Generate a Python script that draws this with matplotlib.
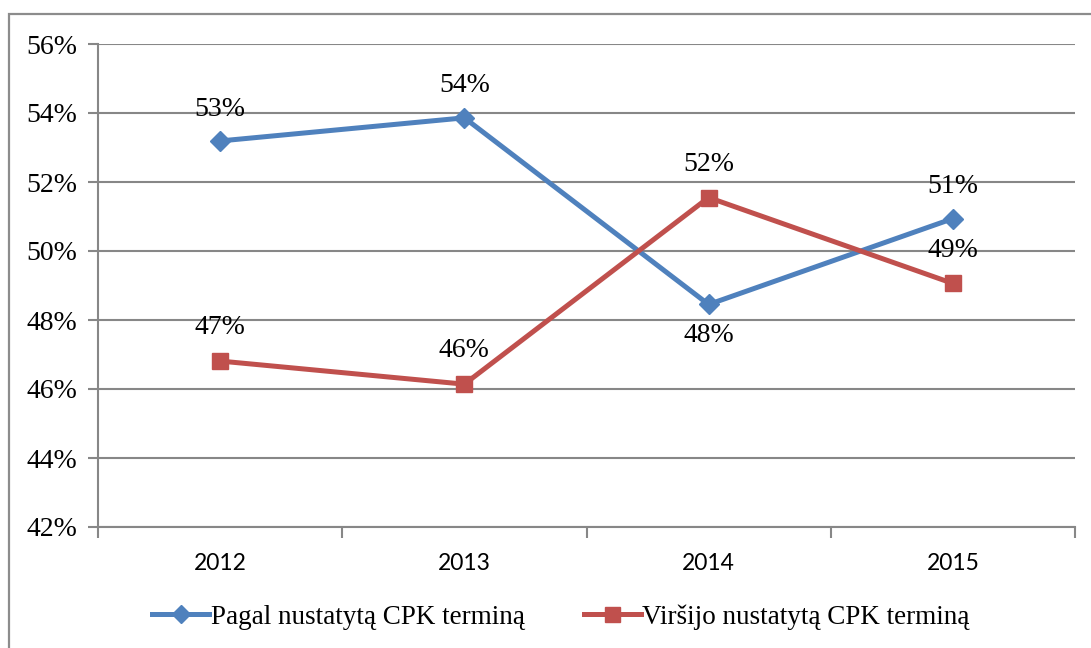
import matplotlib
matplotlib.use("Agg")
import matplotlib.pyplot as plt
from matplotlib.patches import Rectangle
from matplotlib.ticker import FixedLocator, FuncFormatter

years = ["2012", "2013", "2014", "2015"]
pagal = [53.19, 53.86, 48.45, 50.94]
virsijo = [46.81, 46.14, 51.55, 49.06]
pagal_labels = ["53%", "54%", "48%", "51%"]
virsijo_labels = ["47%", "46%", "52%", "49%"]
pagal_label_pos = ["above", "above", "below", "above"]
virsijo_label_pos = ["above", "above", "above", "above"]
yticks = [42, 44, 46, 48, 50, 52, 54, 56]
series_names = ["Pagal nustatytą CPK terminą", "Viršijo nustatytą CPK terminą"]

BLUE = "#4F81BD"
RED = "#C0504D"
GRID = "#878787"
SERIF = ["Liberation Serif", "DejaVu Serif"]

fig = plt.figure(figsize=(10.91, 6.48), dpi=100)
ax = fig.add_axes([98/1091, 1 - 527/648, (1075-98)/1091, (527-44)/648])

# outer frame
fig.patches.append(Rectangle((9/1091, -0.05), 1.2, 1 - 14/648 + 0.05,
                             transform=fig.transFigure, fill=False,
                             edgecolor="#8c8c8c", linewidth=1.6, zorder=0))

x = list(range(len(years)))
ax.plot(x, pagal, color=BLUE, linewidth=3.6, marker="D", markersize=10,
        markerfacecolor=BLUE, markeredgecolor=BLUE, label=series_names[0], zorder=3)
ax.plot(x, virsijo, color=RED, linewidth=3.6, marker="s", markersize=12,
        markerfacecolor=RED, markeredgecolor=RED, label=series_names[1], zorder=3)

for xi, v, lab, pos in zip(x, pagal, pagal_labels, pagal_label_pos):
    off = 23 if pos == "above" else -22
    ax.annotate(lab, (xi, v), xytext=(0, off), textcoords="offset points",
                ha="center", va="center", fontsize=20, family=SERIF, color="black")
for xi, v, lab, pos in zip(x, virsijo, virsijo_labels, virsijo_label_pos):
    off = 24 if pos == "above" else -24
    ax.annotate(lab, (xi, v), xytext=(0, off), textcoords="offset points",
                ha="center", va="center", fontsize=20, family=SERIF, color="black")

ax.set_ylim(42, 56)
ax.set_xlim(-0.5, len(years) - 0.5)
ax.set_yticks(yticks)
ax.yaxis.set_major_formatter(FuncFormatter(lambda v, p: f"{v:.0f}%"))
for lbl in ax.get_yticklabels():
    lbl.set_family(SERIF)
    lbl.set_fontsize(20)

ax.set_xticks(x)
ax.set_xticklabels(years, fontsize=16.5, family=["Lato", "DejaVu Sans"])
ax.xaxis.set_minor_locator(FixedLocator([i - 0.5 for i in range(len(years) + 1)]))
ax.tick_params(axis="x", which="major", length=0, pad=19)
ax.tick_params(axis="x", which="minor", length=8, width=1.5, color=GRID, direction="out")
ax.tick_params(axis="y", which="major", length=7, width=1.5, color=GRID, direction="out", pad=8)

ax.grid(axis="y", color=GRID, linewidth=1.5)
ax.set_axisbelow(True)
for s in ["top", "right"]:
    ax.spines[s].set_visible(False)
for s in ["left", "bottom"]:
    ax.spines[s].set_color(GRID)
    ax.spines[s].set_linewidth(1.5)

leg = fig.legend(loc="center", bbox_to_anchor=(561/1091, 1 - 617/648), ncol=2,
                 frameon=False, prop={"family": SERIF, "size": 19.5},
                 handlelength=2.1, handletextpad=0.05, columnspacing=2.2,
                 markerscale=0.9)

fig.savefig("out.png", dpi=100)
